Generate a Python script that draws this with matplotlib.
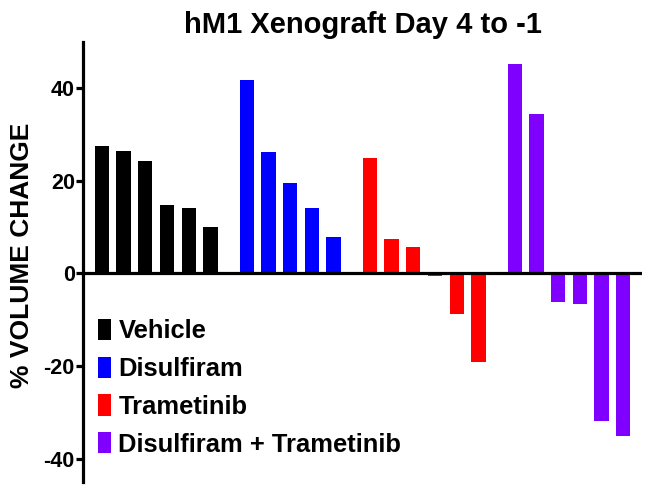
import numpy as np
import matplotlib
matplotlib.use("Agg")
import matplotlib.pyplot as plt
from matplotlib.patches import Patch

plt.rcParams['font.family'] = ['Liberation Sans', 'DejaVu Sans']
plt.rcParams['font.weight'] = 'bold'
plt.rcParams['axes.unicode_minus'] = False

groups = ['Vehicle', 'Disulfiram', 'Trametinib', 'Disulfiram + Trametinib']
colors = ['#000000', '#0000FF', '#FF0000', '#8000FF']
vehicle = [27.4, 26.4, 24.3, 14.7, 14.0, 10.1]
disulfiram = [41.7, 26.2, 19.6, 14.2, 7.9]
trametinib = [24.9, 7.4, 5.6, -0.6, -8.7, -19.1]
combo = [45.2, 34.4, -6.1, -6.6, -32.0, -35.1]
yticks = [-40, -20, 0, 20, 40]

fig = plt.figure(figsize=(6.5, 4.91), dpi=100)
ax = fig.add_axes([0.128, 0.019, 0.86, 0.896])

gap = 0.67
start = 0.0
for vals, col, name in zip([vehicle, disulfiram, trametinib, combo], colors, groups):
    x = start + np.arange(len(vals))
    ax.bar(x, vals, width=0.66, color=col, linewidth=0)
    start = x[-1] + 1 + gap

ax.axhline(0, color='black', linewidth=2.3, zorder=3)
ax.set_xlim(-0.86, 24.88)
ax.set_ylim(-45, 50)
ax.set_yticks(yticks)
ax.set_yticklabels([str(t) for t in yticks], fontsize=15.5, fontweight='bold')
ax.set_xticks([])
for s in ['top', 'right', 'bottom']:
    ax.spines[s].set_visible(False)
ax.spines['left'].set_linewidth(2.3)
ax.tick_params(axis='y', direction='out', length=5, width=2.3, pad=1)

ax.set_ylabel('% VOLUME CHANGE', fontsize=19, fontweight='bold')
ax.yaxis.set_label_coords(-0.088, 0.515)
ax.set_title('hM1 Xenograft Day 4 to -1', fontsize=21, fontweight='bold', pad=6)

handles = [Patch(facecolor=c, edgecolor='none') for c in colors]
ax.legend(handles, groups, loc='upper left', bbox_to_anchor=(98 / 650, 1 - 319 / 491),
          bbox_transform=fig.transFigure, frameon=False,
          handlelength=0.5, handleheight=0.9, handletextpad=0.3, labelspacing=0.52,
          borderaxespad=0, borderpad=0, prop={'weight': 'bold', 'size': 18.4})

fig.savefig('out.png', dpi=100)
